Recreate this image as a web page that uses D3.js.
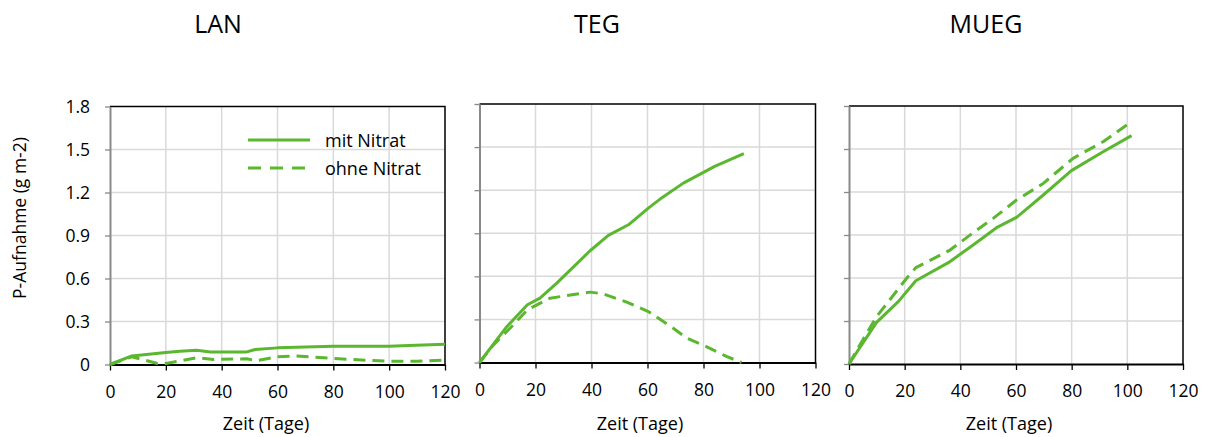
<!DOCTYPE html>
<html><head><meta charset="utf-8">
<script src="https://cdn.jsdelivr.net/npm/d3@7"></script>
<style>
html,body{margin:0;padding:0;background:#fff;}
svg{display:block;font-family:"Open Sans",Lato,sans-serif;}
</style></head>
<body>
<svg id="chart" width="1206" height="437"></svg>
<script>
// ---- data ----
const panelNames = ["LAN", "TEG", "MUEG"];
const seriesNames = ["mit Nitrat", "ohne Nitrat"];
const xTicks = [0, 20, 40, 60, 80, 100, 120];
const yTicks = [0, 0.3, 0.6, 0.9, 1.2, 1.5, 1.8];
const yTickLabels = ["0", "0.3", "0.6", "0.9", "1.2", "1.5", "1.8"];
const xLabel = "Zeit (Tage)";
const yLabel = "P-Aufnahme (g m-2)";

const lanMitDays   = [0, 7.8, 20, 25, 31, 36, 49, 52, 60, 80, 100, 107, 120];
const lanMitVals   = [0, 0.06, 0.084, 0.093, 0.1, 0.088, 0.088, 0.105, 0.116, 0.128, 0.128, 0.133, 0.142];
const lanOhneDays  = [0, 7.8, 17, 20, 31, 37, 49, 52.5, 60, 66, 80, 92, 100, 110, 120];
const lanOhneVals  = [0, 0.054, 0.007, 0.007, 0.047, 0.035, 0.04, 0.026, 0.054, 0.06, 0.042, 0.03, 0.023, 0.023, 0.03];

const tegMitDays   = [0, 9.8, 17.1, 21.6, 27.6, 39.5, 46, 53.2, 60.3, 64.5, 72.8, 84, 94.4];
const tegMitVals   = [0, 0.251, 0.402, 0.448, 0.553, 0.778, 0.885, 0.959, 1.075, 1.138, 1.249, 1.366, 1.455];
const tegOhneDays  = [0, 5, 11.5, 17.1, 25.2, 39.5, 44.2, 52.6, 60.3, 69.2, 74, 81, 88.2, 93.6];
const tegOhneVals  = [0, 0.123, 0.251, 0.367, 0.448, 0.49, 0.478, 0.42, 0.355, 0.239, 0.17, 0.111, 0.042, 0];

const muegMitDays  = [0, 9.9, 17.7, 24, 35.7, 44.6, 53, 60.2, 69.8, 79.9, 91.3, 101.5];
const muegMitVals  = [0, 0.29, 0.435, 0.581, 0.707, 0.83, 0.951, 1.023, 1.179, 1.349, 1.481, 1.593];
const muegOhneDays = [0, 3.9, 9.9, 20.7, 24, 36.3, 44.6, 51.8, 60.2, 69.8, 80.5, 91.3, 101.5];
const muegOhneVals = [0, 0.133, 0.33, 0.598, 0.672, 0.795, 0.916, 1.016, 1.144, 1.26, 1.435, 1.551, 1.691];

const panelData = [
  [[lanMitDays, lanMitVals], [lanOhneDays, lanOhneVals]],
  [[tegMitDays, tegMitVals], [tegOhneDays, tegOhneVals]],
  [[muegMitDays, muegMitVals], [muegOhneDays, muegOhneVals]]
];

// ---- layout ----
const frames = [
  {x0: 110, x1: 445, y0: 364.5, y1: 106.5, title: 218, xl: 266},
  {x0: 479.5, x1: 815.5, y0: 362.5, y1: 104, title: 597, xl: 640},
  {x0: 849, x1: 1183, y0: 364, y1: 106, title: 986, xl: 1009}
];
const green = "#5bb72f";
const dashes = [null, "12,7"];
const font = "'Open Sans'";

const svg = d3.select("#chart");

frames.forEach((f, pi) => {
  const x = d3.scaleLinear().domain([0, 120]).range([f.x0, f.x1]);
  const y = d3.scaleLinear().domain([0, 1.8]).range([f.y0, f.y1]);
  const g = svg.append("g");

  // gridlines
  g.append("g").selectAll("line").data(xTicks.slice(1, -1)).join("line")
    .attr("x1", d => x(d)).attr("x2", d => x(d)).attr("y1", f.y0).attr("y2", f.y1)
    .attr("stroke", "#d9d9d9").attr("stroke-width", 1.5);
  g.append("g").selectAll("line").data(yTicks.slice(1, -1)).join("line")
    .attr("y1", d => y(d)).attr("y2", d => y(d)).attr("x1", f.x0).attr("x2", f.x1)
    .attr("stroke", "#d9d9d9").attr("stroke-width", 1.5);

  // frame top/right
  g.append("path").attr("d", `M${f.x0},${f.y1}H${f.x1}V${f.y0}`)
    .attr("fill", "none").attr("stroke", "#000").attr("stroke-width", 1.5);

  // y axis (gray)
  const yAxis = d3.axisLeft(y).tickValues(yTicks).tickSize(5).tickSizeOuter(0)
    .tickFormat((d, i) => pi === 0 ? yTickLabels[i] : "");
  const ya = g.append("g").attr("transform", `translate(${f.x0},0)`).call(yAxis);
  ya.select(".domain").attr("stroke", "#898989").attr("stroke-width", 2);
  ya.selectAll(".tick line").attr("stroke", "#898989").attr("stroke-width", 1.3);
  ya.selectAll(".tick text").attr("font-size", 17.5).attr("fill", "#000").attr("x", -20)
    .attr("font-family", font);

  // x axis (black)
  const xAxis = d3.axisBottom(x).tickValues(xTicks).tickSize(6).tickSizeOuter(0);
  const xa = g.append("g").attr("transform", `translate(0,${f.y0})`).call(xAxis);
  xa.select(".domain").attr("stroke", "#000").attr("stroke-width", 2);
  xa.selectAll(".tick line").attr("stroke", "#000").attr("stroke-width", 1.3);
  xa.selectAll(".tick text").attr("font-size", 17.5).attr("fill", "#000").attr("y", 21)
    .attr("font-family", font);

  // lines
  const line = d3.line().x(d => x(d[0])).y(d => y(d[1]));
  panelData[pi].forEach((s, si) => {
    const pts = s[0].map((d, i) => [d, s[1][i]]);
    g.append("path").datum(pts).attr("d", line)
      .attr("fill", "none").attr("stroke", green).attr("stroke-width", 3)
      .attr("stroke-linejoin", "round")
      .attr("stroke-dasharray", dashes[si]);
  });

  // title
  svg.append("text").attr("x", f.title).attr("y", 33).attr("text-anchor", "middle")
    .attr("font-size", 25).attr("fill", "#000").text(panelNames[pi]);
  // x label
  svg.append("text").attr("x", f.xl).attr("y", 430).attr("text-anchor", "middle")
    .attr("font-size", 18).attr("fill", "#000").text(xLabel);
});

// y label
svg.append("text").attr("transform", "translate(26,218) rotate(-90)")
  .attr("text-anchor", "middle").attr("font-size", 17.5).attr("fill", "#000").text(yLabel);

// legend
const legend = svg.append("g");
seriesNames.forEach((n, i) => {
  const ly = 140 + i * 28;
  legend.append("line").attr("x1", 248).attr("x2", 310).attr("y1", ly).attr("y2", ly)
    .attr("stroke", green).attr("stroke-width", 3).attr("stroke-dasharray", i ? "13,9" : null);
  legend.append("text").attr("x", 325).attr("y", ly + 7).attr("font-size", 18)
    .attr("fill", "#000").text(n);
});
</script>
</body></html>
